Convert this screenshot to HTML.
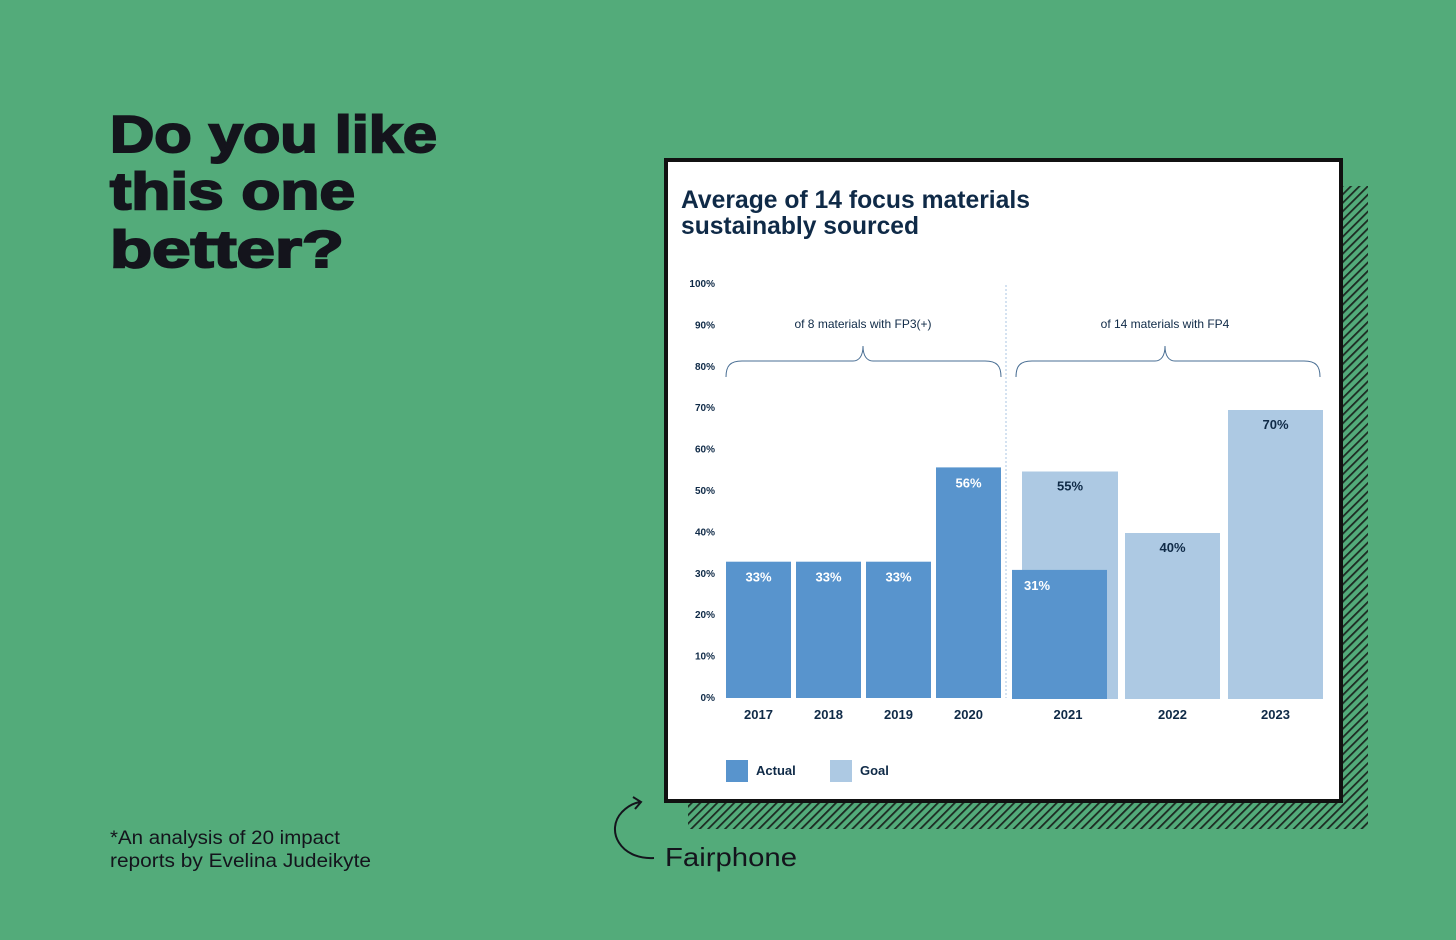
<!DOCTYPE html>
<html><head><meta charset="utf-8"><style>
html,body{margin:0;padding:0;background:#53AB7A;}
body{width:1456px;height:935px;overflow:hidden;font-family:"Liberation Sans",sans-serif;}
</style></head><body>
<svg id="root" width="1456" height="935" viewBox="0 0 1456 935" xmlns="http://www.w3.org/2000/svg">
<defs>
<pattern id="hatch" patternUnits="userSpaceOnUse" width="6" height="6" patternTransform="rotate(45)">
<rect width="6" height="6" fill="#53AB7A"/><rect x="0" y="0" width="1.8" height="6" fill="#1c2a22"/>
</pattern>
</defs>
<rect width="1456" height="935" fill="#53AB7A"/>
<g fill="#14141c" font-weight="900" font-size="52" font-family="Liberation Sans, sans-serif">
<text x="110" y="152" textLength="327" lengthAdjust="spacingAndGlyphs" stroke="#14141c" stroke-width="2">Do you like</text>
<text x="110" y="209" textLength="245" lengthAdjust="spacingAndGlyphs" stroke="#14141c" stroke-width="2">this one</text>
<text x="110" y="267" textLength="234" lengthAdjust="spacingAndGlyphs" stroke="#14141c" stroke-width="2">better?</text>
</g>
<g fill="#14141c" font-size="19">
<text x="110" y="844" textLength="230" lengthAdjust="spacingAndGlyphs">*An analysis of 20 impact</text>
<text x="110" y="867" textLength="261" lengthAdjust="spacingAndGlyphs">reports by Evelina Judeikyte</text>
</g>
<path d="M654,858 C620,860 605,830 622,812 C628,806 634,803 640,802 M633,797 L641,802 L635,809" fill="none" stroke="#14141c" stroke-width="2"/>
<text x="665" y="866" font-size="26" fill="#14141c" textLength="132" lengthAdjust="spacingAndGlyphs">Fairphone</text>
<rect x="688" y="186" width="680" height="643" fill="url(#hatch)"/>
<rect x="666" y="160" width="675" height="641" fill="#fff" stroke="#111" stroke-width="4"/>
<g fill="#0f2a47" font-weight="bold" font-size="25">
<text x="681" y="208" textLength="349" lengthAdjust="spacingAndGlyphs">Average of 14 focus materials</text>
<text x="681" y="234" textLength="238" lengthAdjust="spacingAndGlyphs">sustainably sourced</text>
</g>
<g id="chart"></g>
</svg>
<script>
const yTicks=[0,10,20,30,40,50,60,70,80,90,100];
const years=["2017","2018","2019","2020","2021","2022","2023"];
const actual=[33,33,33,56,31,null,null];
const goal=[null,null,null,null,55,40,70];
const legendLabels=["Actual","Goal"];
const NS="http://www.w3.org/2000/svg";
const g=document.getElementById('chart');
function y(v){return 697-v*4.14;}
function yb(v){return 697-v*4.1;}
function mk(t,a,txt){const e=document.createElementNS(NS,t);for(const k in a)e.setAttribute(k,a[k]);if(txt!=null)e.textContent=txt;g.appendChild(e);return e;}
yTicks.forEach(v=>{const e=mk('text',{x:715,y:y(v)+4,'text-anchor':'end','font-size':10,'font-weight':'bold',fill:'#0f2a47'},v+'%');

});
const sep=mk('line',{x1:1006,y1:285,x2:1006,y2:698,stroke:'#a9c6e3','stroke-width':1,'stroke-dasharray':'2,2'});


const slots=[[726,65],[796,65],[866,65],[936,65],[1012,95],[1125,95],[1228,95]];
const goalSlots={4:[1022,96]};
years.forEach((yr,i)=>{
 const [x,w]=slots[i];
 if(goal[i]!=null){const gs=goalSlots[i]||[x,w];
  const r=mk('rect',{x:gs[0],y:yb(goal[i]),width:gs[1],height:699-yb(goal[i]),fill:'#adc9e3'});
  
  
  const t=mk('text',{x:gs[0]+gs[1]/2,y:yb(goal[i])+19,'text-anchor':'middle','font-size':13,'font-weight':'bold',fill:'#0f2a47'},goal[i]+'%');
  
  }
 if(actual[i]!=null){const bottom=i<4?698:699;
  const r=mk('rect',{x:x,y:yb(actual[i]),width:w,height:bottom-yb(actual[i]),fill:'#5894cd'});
  
  
  const tx=i<4?x+w/2:x+25;
  const t=mk('text',{x:tx,y:yb(actual[i])+20,'text-anchor':'middle','font-size':13,'font-weight':'bold',fill:'#fff'},actual[i]+'%');
  
  }
 const cx=i==4?1068:x+w/2;
 const l=mk('text',{x:cx,y:719,'text-anchor':'middle','font-size':13,'font-weight':'bold',fill:'#0f2a47'},yr);
 
 
});
function brace(x1,x2,xm,label){
 const d=`M${x1},377 C${x1},366 ${x1+4},361 ${x1+16},361 L${xm-10},361 C${xm-4},361 ${xm},356 ${xm},346 C${xm},356 ${xm+4},361 ${xm+10},361 L${x2-16},361 C${x2-4},361 ${x2},366 ${x2},377`;
 const p=mk('path',{d:d,fill:'none',stroke:'#4a6f94','stroke-width':1});
 
 
 const t=mk('text',{x:xm,y:328,'text-anchor':'middle','font-size':12,fill:'#0f2a47'},label);
 
 
}
brace(726,1001,863,'of 8 materials with FP3(+)');
brace(1016,1320,1165,'of 14 materials with FP4');
const lc=['#5894cd','#adc9e3'],lx=[726,830];
legendLabels.forEach((s,i)=>{
 const r=mk('rect',{x:lx[i],y:760,width:22,height:22,fill:lc[i]});
 
 
 const t=mk('text',{x:lx[i]+30,y:775,'font-size':13,'font-weight':'bold',fill:'#0f2a47'},s);
 
 
});
</script>
</body></html>
